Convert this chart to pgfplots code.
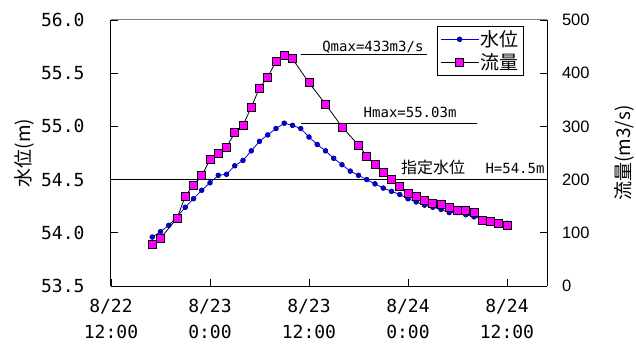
\documentclass[border=0pt]{standalone}
\usepackage{pgfplots}
\usepackage{pgfplotstable}
\pgfplotsset{compat=1.18}
\usepackage{fontspec}
\setmainfont{Liberation Sans}
\newfontfamily\cjk{Noto Sans CJK JP}
\newfontfamily\mono{DejaVu Sans Mono}
\definecolor{ptblue}{RGB}{0,0,230}
\definecolor{ptnavy}{RGB}{0,0,110}
\definecolor{ptmag}{RGB}{255,0,255}

\pgfplotstableread{
h H
5 53.96
6 54.01
7 54.07
8 54.15
9 54.24
10 54.32
11 54.40
12 54.47
13 54.54
14 54.55
15 54.63
16 54.68
17 54.77
18 54.86
19 54.92
20 54.98
21 55.03
22 55.01
23 54.98
24 54.90
25 54.83
26 54.77
27 54.70
28 54.64
29 54.58
30 54.54
31 54.50
32 54.46
33 54.42
34 54.39
35 54.36
36 54.32
37 54.29
38 54.26
39 54.24
40 54.22
41 54.19
42 54.19
43 54.17
44 54.15
45 54.13
46 54.12
47 54.10
48 54.09
}\levtable

\pgfplotstableread{
h Q
5 79
6 90
8 127
9 169
10 190
11 207
12 238
13 249
14 261
15 288
16 302
17 336
18 372
19 393
20 422
21 433
22 427
24 382
26 342
28 299
30 265
31 244
32 229
33 213
34 201
35 188
36 175
37 169
38 161
39 156
40 154
41 147
42 142
43 142
44 138
45 124
46 122
47 117
48 113
}\flowtable

\pgfplotsset{
  common/.style={scale only axis, width=436bp, height=266bp, xmin=0, xmax=52.85,
    at={(0,0)}, anchor=south west, tick align=inside, major tick length=7bp,
    every tick/.style={black, line width=0.8bp},
    axis line style={line width=1bp, black}},
}

\begin{document}
\begin{tikzpicture}
\path[use as bounding box] (-111bp,-66bp) rectangle (525bp,286bp);

\begin{axis}[common, ymin=53.5, ymax=56,
  axis x line*=bottom, axis y line*=left,
  xtick={0,12,24,36,48},
  xticklabels={{8/22\\12:00},{8/23\\0:00},{8/23\\12:00},{8/24\\0:00},{8/24\\12:00}},
  xticklabel style={align=center, font=\mono\fontsize{18bp}{25.5bp}\selectfont, yshift=-10bp},
  ytick={53.5,54,54.5,55,55.5,56},
  yticklabels={53.5,54.0,54.5,55.0,55.5,56.0},
  yticklabel style={font=\mono\fontsize{18bp}{20bp}\selectfont, xshift=-23bp},
  ylabel={\cjk 水位(m)},
  ylabel style={at={(axis description cs:-0.1995,0.5)}, anchor=center, font=\fontsize{19bp}{22bp}\selectfont},
]
\draw[gray, line width=1bp] (rel axis cs:0,1) -- (rel axis cs:1,1);
\addplot[black, line width=0.9bp, no marks, forget plot] coordinates {(0,54.5) (52.85,54.5)};
\addplot[black, line width=0.9bp, no marks, forget plot] coordinates {(23,55.03) (44.4,55.03)};
\addplot[ptblue, line width=0.8bp, mark=*, mark size=2.4bp,
  mark options={fill=ptblue, draw=ptnavy, line width=0.6bp}] table[x=h, y=H] {\levtable};
\node[anchor=base east, font=\mono\fontsize{14bp}{16bp}\selectfont] at (axis cs:42.3,55.03) [yshift=6bp] {Hmax=55.03m};
\node[anchor=base west, font=\cjk\fontsize{16bp}{18bp}\selectfont] at (axis cs:34.75,54.5) [yshift=6bp] {指定水位};
\node[anchor=base west, font=\mono\fontsize{14bp}{16bp}\selectfont] at (axis cs:44.97,54.5) [yshift=6bp] {H=54.5m};
\end{axis}

\begin{axis}[common, ymin=0, ymax=500,
  axis y line*=right, axis x line=none,
  ytick={0,100,200,300,400,500},
  yticklabels={0,100,200,300,400,500},
  yticklabel style={font=\fontsize{16.5bp}{18bp}\selectfont, xshift=11.5bp},
  ylabel={\cjk 流量(m3/s)},
  ylabel style={at={(axis description cs:1.1766,0.5)}, anchor=center, font=\fontsize{19bp}{22bp}\selectfont},
  legend style={at={(axis description cs:0.747,0.977)}, anchor=north west,
    draw=black, line width=1bp, font=\cjk\fontsize{19bp}{22bp}\selectfont,
    inner xsep=3bp, inner ysep=2bp, row sep=2bp, cells={anchor=west}},
  legend image code/.code={\draw[mark repeat=2, mark phase=2] plot coordinates {(0bp,0bp) (19bp,0bp) (38bp,0bp)};},
]
\addplot[black, line width=0.9bp, no marks, forget plot] coordinates {(23,436) (38.3,436)};
\node[anchor=base east, font=\mono\fontsize{14bp}{16bp}\selectfont] at (axis cs:38.3,436) [yshift=3bp] {Qmax=433m3/s};
\addlegendimage{ptblue, line width=0.8bp, mark=*, mark size=2.4bp, mark options={fill=ptblue, draw=ptnavy, line width=0.6bp}}
\addlegendentry{水位}
\addplot[black, line width=0.8bp, mark=square*, mark size=4bp,
  mark options={fill=ptmag, draw=black, line width=0.8bp}] table[x=h, y=Q] {\flowtable};
\addlegendentry{流量}
\end{axis}
\end{tikzpicture}
\end{document}
